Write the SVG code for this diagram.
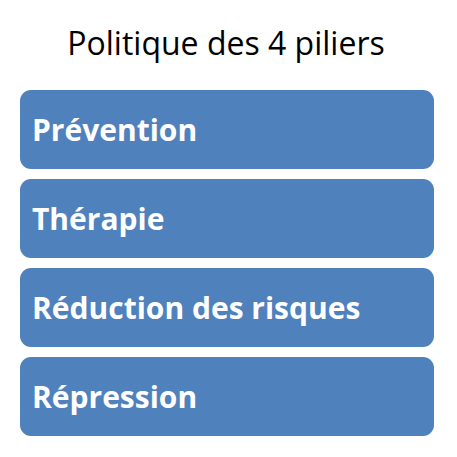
<svg xmlns="http://www.w3.org/2000/svg" width="457" height="457" viewBox="0 0 457 457">
<style>
.box{fill:#4F81BD;}
.lbl{font-family:"Open Sans","Noto Sans",sans-serif;font-weight:bold;font-size:30px;fill:#FFFFFF;}
.title{font-family:"Open Sans","Noto Sans",sans-serif;font-size:32px;fill:#000000;}
</style>
<rect width="457" height="457" fill="#FFFFFF"/>
<g id="title"><text class="title" x="226" y="55" text-anchor="middle">Politique des 4 piliers</text></g>
<g id="n1"><rect class="box" x="20" y="90" width="414" height="79" rx="11"/><text class="lbl" x="32" y="141">Prévention</text></g>
<g id="n2"><rect class="box" x="20" y="179" width="414" height="79" rx="11"/><text class="lbl" x="32" y="230">Thérapie</text></g>
<g id="n3"><rect class="box" x="20" y="268" width="414" height="79" rx="11"/><text class="lbl" x="32" y="319">Réduction des risques</text></g>
<g id="n4"><rect class="box" x="20" y="357" width="414" height="79" rx="11"/><text class="lbl" x="32" y="408">Répression</text></g>
<g id="connectors"></g>
</svg>
